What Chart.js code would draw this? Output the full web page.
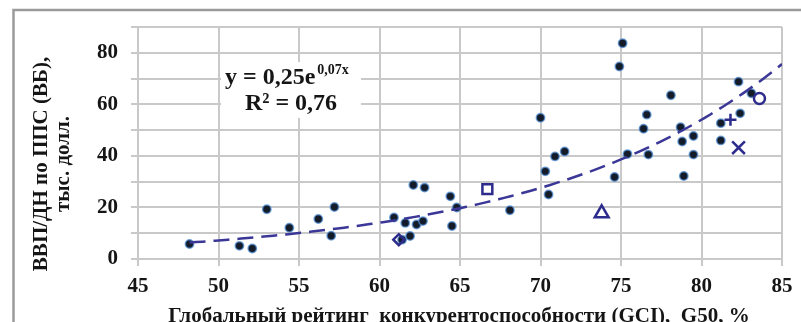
<!DOCTYPE html>
<html>
<head>
<meta charset="utf-8">
<script src="https://cdn.jsdelivr.net/npm/chart.js@4"></script>
<style>
  html, body { margin: 0; padding: 0; background: #fff; }
</style>
</head>
<body>
<canvas id="myChart" width="801" height="322"></canvas>
<script>
const ctx = document.getElementById('myChart');

// GCI (x) and GDP per capita PPP, thousand $ (y), one dot per country
const gci = [48.2, 51.3, 52.1, 53.0, 54.4, 56.2, 57.0, 57.2, 60.9, 61.4,
             61.6, 61.9, 62.1, 62.3, 62.7, 62.8, 64.4, 64.5, 64.8, 68.1,
             70.0, 70.3, 70.5, 70.9, 71.5, 74.6, 74.9, 75.1, 75.4, 76.4,
             76.6, 76.7, 78.1, 78.7, 78.8, 78.9, 79.5, 79.5, 81.2, 81.2,
             82.3, 82.4, 83.1]
const gdp = [5.8, 5.1, 4.1, 19.3, 12.1, 15.5, 9.0, 20.2, 16.1, 7.5,
             14.0, 8.9, 28.7, 13.4, 14.7, 27.7, 24.3, 12.8, 20.0, 18.9,
             54.8, 34.0, 25.0, 39.8, 41.7, 31.8, 74.7, 83.7, 40.7, 50.5,
             56.0, 40.5, 63.5, 51.1, 45.6, 32.2, 47.7, 40.5, 52.7, 46.0,
             68.8, 56.5, 64.3]

// highlighted countries (own marker each)
const markNames = ['diamond', 'square', 'triangle', 'plus', 'cross', 'circle']
const markStyles = ['rectRot', 'rect', 'triangle', 'cross', 'crossRot', 'circle']
const markSizes = [5.5, 7, 8, 6, 9, 5.5]
const markX = [61.2, 66.7, 73.8, 81.8, 82.3, 83.6]
const markY = [7.5, 27.1, 17.7, 54.0, 43.2, 62.3]

// trend y = a*e^(b*x), shown on chart as 0,25e^0,07x
const trendA = 0.25
const trendB = 0.0672
const trendFrom = 48.2
const trendTo = 85

const xTicks = [45, 50, 55, 60, 65, 70, 75, 80, 85]

const serif = "'Liberation Serif', 'Times New Roman', serif"
const markColor = '#2d2c8c'
const gridColor = '#c9c9c9'

const dots = gci.map((x, i) => ({x: x, y: gdp[i]}))

const trend = []
for (let x = trendFrom; x <= trendTo + 0.001; x += 0.4) {
  trend.push({x: x, y: trendA * Math.exp(trendB * x)})
}

const markSets = markNames.map((name, i) => ({
  label: name,
  data: [{x: markX[i], y: markY[i]}],
  pointStyle: markStyles[i],
  pointRadius: markSizes[i],
  borderColor: markColor,
  backgroundColor: 'rgba(255,255,255,0)',
  borderWidth: 2.5,
  showLine: false
}))

const decor = {
  id: 'decor',
  beforeDraw(chart) {
    const c = chart.ctx
    c.save()
    c.fillStyle = '#fff'
    c.fillRect(0, 0, chart.width, chart.height)
    c.restore()
  },
  beforeDatasetsDraw(chart) {
    const c = chart.ctx
    c.save()
    c.fillStyle = '#fff'
    c.fillRect(221, 62, 140, 56)
    c.fillStyle = '#151515'
    c.textBaseline = 'alphabetic'
    c.textAlign = 'left'
    c.font = 'bold 24px ' + serif
    const main = 'y = 0,25e'
    c.fillText(main, 225, 84)
    const w = c.measureText(main).width
    c.font = 'bold 14px ' + serif
    c.fillText('0,07x', 225 + w + 2, 74)
    c.font = 'bold 24px ' + serif
    c.textAlign = 'center'
    c.fillText('R² = 0,76', 291, 110)
    c.restore()
  },
  afterDraw(chart) {
    const c = chart.ctx
    c.save()
    // outer frame
    c.strokeStyle = '#9a9a9a'
    c.lineWidth = 2.5
    c.beginPath()
    c.moveTo(13.5, 322)
    c.lineTo(13.5, 10)
    c.lineTo(801, 10)
    c.stroke()
    // axis titles
    c.fillStyle = '#151515'
    c.font = 'bold 21px ' + serif
    c.textAlign = 'center'
    c.textBaseline = 'middle'
    c.fillText('Глобальный рейтинг  конкурентоспособности (GCI),  G50, %', 459, 317)
    c.translate(53, 164)
    c.rotate(-Math.PI / 2)
    c.fillText('ВВП/ДН по ППС (ВБ),', 0, -11)
    c.fillText('тыс. долл.', 0, 11)
    c.restore()
  }
}

new Chart(ctx, {
  type: 'scatter',
  data: {
    datasets: [
      {
        label: 'trend',
        data: trend,
        showLine: true,
        borderColor: '#3a3797',
        borderWidth: 2.5,
        borderDash: [16, 8],
        pointRadius: 0,
        tension: 0
      },
      ...markSets,
      {
        label: 'countries',
        data: dots,
        pointStyle: 'circle',
        pointRadius: 4.2,
        backgroundColor: '#141c2a',
        borderColor: 'rgba(80,140,210,0.75)',
        borderWidth: 1.5
      }
    ]
  },
  options: {
    responsive: false,
    animation: false,
    layout: { padding: { left: 0, top: 27, right: 19, bottom: 0 } },
    plugins: {
      legend: { display: false },
      tooltip: { enabled: false }
    },
    scales: {
      x: {
        type: 'linear',
        min: 45,
        max: 85,
        afterFit: (s) => { s.height = 63 },
        afterBuildTicks: (s) => { s.ticks = xTicks.map(v => ({value: v})) },
        ticks: {
          padding: 8,
          color: '#151515',
          font: { family: serif, size: 21, weight: 'bold' }
        },
        grid: { color: gridColor, lineWidth: 2, tickLength: 7 },
        border: { color: gridColor, width: 2 }
      },
      y: {
        min: 0,
        max: 90,
        afterFit: (s) => { s.width = 138 },
        ticks: {
          stepSize: 10,
          autoSkip: false,
          padding: 13,
          color: '#151515',
          font: { family: serif, size: 21, weight: 'bold' },
          callback: (v) => (v % 20 === 0 ? v : '')
        },
        grid: { color: gridColor, lineWidth: 2, tickLength: 7 },
        border: { color: gridColor, width: 2 }
      }
    }
  },
  plugins: [decor]
});
</script>
</body>
</html>
